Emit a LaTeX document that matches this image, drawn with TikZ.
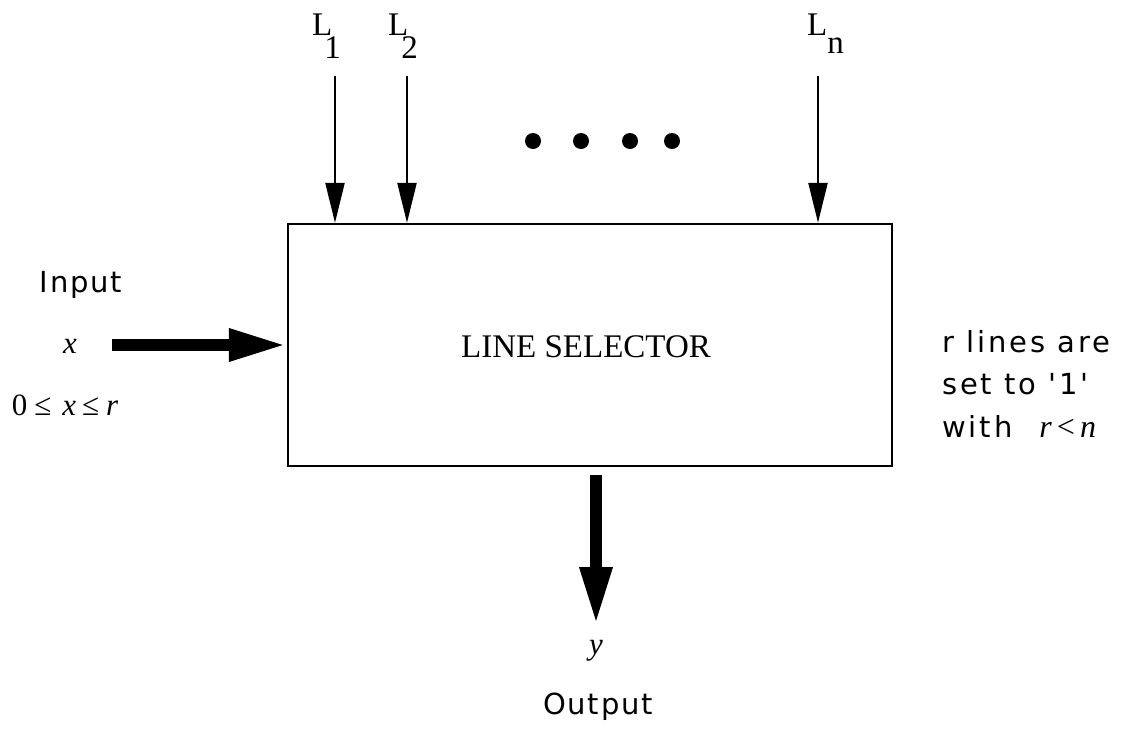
\documentclass[tikz,border=0pt]{standalone}
\usepackage{fontspec}
\setmainfont{Liberation Serif}
\newfontfamily\gen{DejaVu Sans}[LetterSpace=6]
\newfontfamily\genwide{DejaVu Sans}[LetterSpace=10]
\usetikzlibrary{arrows.meta}

\tikzset{
  thinarrow/.style={line width=2.4pt,-{Triangle[length=40pt,width=19pt]}},
  fatarrow/.style={line width=12pt,-{Triangle[length=58pt,width=30pt]}},
  selbox/.style={draw,line width=2.4pt,minimum width=604pt,minimum height=242pt,inner sep=0pt},
  lbl/.style={inner sep=0pt,anchor=base west,font=\fontsize{33}{38}\selectfont},
  note/.style={inner sep=0pt,font=\gen\fontsize{29}{34}\selectfont},
  remark/.style={inner sep=0pt,anchor=base west,font=\genwide\fontsize{29}{34}\selectfont},
  mth/.style={inner sep=0pt,font=\fontsize{31}{36}\selectfont},
  dot/.style={circle,fill,inner sep=0pt,minimum size=16pt}
}

\begin{document}
\begin{tikzpicture}[x=1pt,y=-1pt]
  \useasboundingbox (0,0) rectangle (1121,737);

  % the selector block
  \node[selbox] (sel) at (590,345) {};
  \node[inner sep=0pt,font=\fontsize{33}{38}\selectfont] (title) at (586,347) {LINE SELECTOR};

  % control lines L1, L2, ..., Ln
  \node[lbl] (l1) at (312,35) {L\kern-8pt\raisebox{-23pt}{1}};
  \node[lbl] (l2) at (388,35) {L\kern-7pt\raisebox{-23pt}{2}};
  \node[lbl] (ln) at (807,35) {L\kern0pt\raisebox{-18pt}{n}};
  \coordinate (t1) at (335,76);
  \coordinate (t2) at (407,76);
  \coordinate (tn) at (818,76);
  \draw[thinarrow] (t1) -- (t1 |- sel.north);
  \draw[thinarrow] (t2) -- (t2 |- sel.north);
  \draw[thinarrow] (tn) -- (tn |- sel.north);

  % ellipsis between L2 and Ln
  \node[dot] (d1) at (533,141) {};
  \node[dot] (d2) at (581,141) {};
  \node[dot] (d3) at (630,141) {};
  \node[dot] (d4) at (672,141) {};

  % input side
  \node[note,anchor=base] (inp) at (81,292) {Input};
  \node[mth] (xin) at (70,346) {\textit{x}};
  \node[mth,anchor=base] (range) at (65,415)
    {0\hspace{7pt}≤\hspace{11pt}\textit{x}\hspace{6pt}≤\hspace{7pt}\textit{r}};
  \coordinate (xs) at (112,345);
  \draw[fatarrow] (xs) -- (sel.west);

  % output side
  \coordinate (ys) at (596,475);
  \coordinate (ye) at (596,625);
  \draw[fatarrow] (ys) -- (ye);
  \node[mth,anchor=base] (yout) at (596,654) {\textit{y}};
  \node[note,anchor=base] (outp) at (598,714) {Output};

  % remark on the right
  \node[remark] (r1) at (942,352) {r lines are};
  \node[remark] (r2) at (942,394) {set to '1'};
  \node[remark] (r3) at (942,437)
    {with\hspace{27pt}{\rmfamily\fontsize{32}{36}\selectfont\textit{r}\hspace{5pt}<\hspace{5pt}\textit{n}}};
\end{tikzpicture}
\end{document}
